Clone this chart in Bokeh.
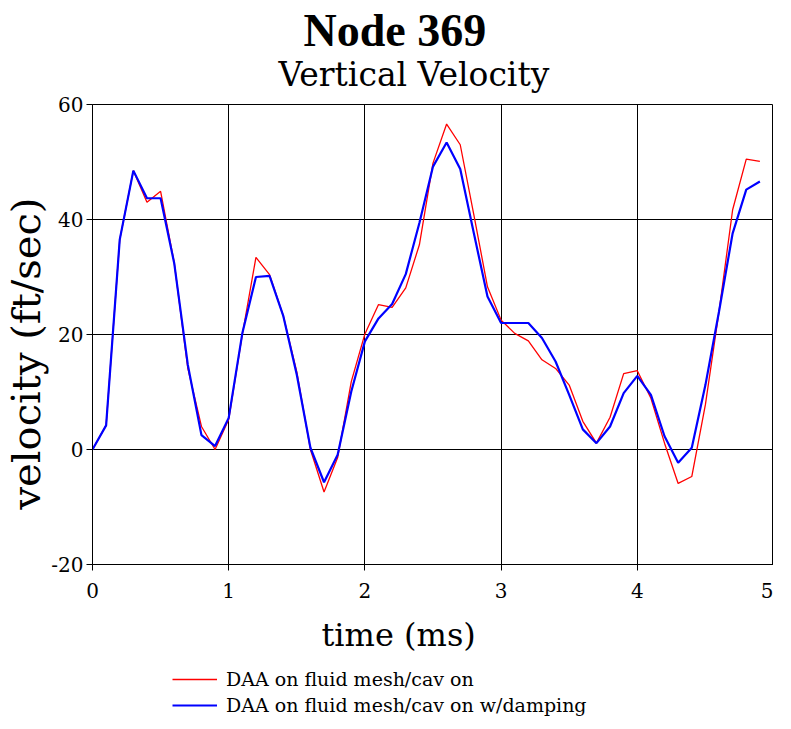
from bokeh.plotting import figure
from bokeh.models import Title, Legend, LegendItem, FixedTicker, Range1d
from bokeh.layouts import column
from bokeh.embed import file_html
from bokeh.resources import INLINE

time_ms = [round(i * 0.1, 1) for i in range(50)]
vel_cav = [0, 4.2, 36.5, 48.5, 43.0, 44.9, 32.5, 14.1, 4.0, 0.0,
           5.2, 20.0, 33.4, 30.4, 23.3, 13.5, 0.0, -7.4, -1.4, 11.8,
           20.1, 25.2, 24.7, 28.1, 35.6, 49.8, 56.6, 53.0, 40.8, 28.3,
           22.5, 20.2, 18.9, 15.6, 14.1, 11.2, 4.9, 1.1, 5.6, 13.2,
           13.7, 8.9, 1.1, -5.9, -4.7, 7.8, 24.0, 41.7, 50.5, 50.1]
vel_damp = [0, 4.2, 36.5, 48.5, 43.7, 43.7, 32.4, 14.7, 2.5, 0.6,
            5.5, 20.2, 30.0, 30.2, 23.3, 13.0, 0.3, -5.7, -0.9, 10.1,
            18.8, 22.8, 25.3, 30.5, 39.4, 49.2, 53.4, 48.8, 37.6, 26.6,
            22.0, 22.0, 22.0, 19.4, 15.3, 9.5, 3.5, 1.1, 4.0, 9.8,
            12.8, 9.5, 2.3, -2.3, 0.3, 11.2, 24.0, 37.6, 45.2, 46.6]
x_ticks = [0, 1, 2, 3, 4, 5]
y_ticks = [-20, 0, 20, 40, 60]
y_tick_labels = {-20: "-20", 0: "0", 20: "20", 40: "40", 60: "60"}
series_labels = ["DAA on fluid mesh/cav on", "DAA on fluid mesh/cav on w/damping"]
series_colors = ["#ff0000", "#0000ff"]
series_widths = [1.3, 2.2]

SERIF = "DejaVu Serif"
TIMES = "Liberation Serif"

p = figure(frame_width=681, frame_height=460, min_border=0,
           x_range=Range1d(0, 5), y_range=Range1d(-20, 60),
           output_backend="svg", toolbar_location=None,
           background_fill_color="white", border_fill_color="white")
p.outline_line_color = "black"
p.outline_line_width = 1

p.title = None
sub = Title(text="Vertical Velocity", align="left", offset=186, text_font=SERIF,
            text_font_size="33px", text_font_style="normal", text_color="black",
            standoff=21)
main = Title(text="Node 369", align="left", offset=211, text_font=TIMES,
             text_font_size="46px", text_font_style="bold", text_color="black",
             standoff=-26)
top_pad = Title(text="\u00a0", align="left", text_font=SERIF,
                text_font_size="11px", text_font_style="normal", standoff=0)
p.add_layout(sub, "above")
p.add_layout(main, "above")
p.add_layout(top_pad, "above")

ylab = Title(text="velocity (ft/sec)", align="left", offset=55, text_font=SERIF,
             text_font_size="40px", text_font_style="normal", text_color="black",
             standoff=0)
p.add_layout(ylab, "left")

r1 = p.line(time_ms, vel_cav, line_color=series_colors[0], line_width=series_widths[0])
r2 = p.line(time_ms, vel_damp, line_color=series_colors[1], line_width=series_widths[1])

for ax in (p.xaxis[0], p.yaxis[0]):
    ax.axis_line_color = "black"
    ax.major_tick_line_color = "black"
    ax.minor_tick_line_color = None
    ax.major_tick_out = 6
    ax.major_tick_in = 0
    ax.major_label_text_font = SERIF
    ax.major_label_text_font_size = "20px"
    ax.major_label_text_color = "black"

p.xaxis.ticker = FixedTicker(ticks=x_ticks)
p.yaxis.ticker = FixedTicker(ticks=y_ticks)
p.yaxis.major_label_overrides = y_tick_labels
p.xaxis.major_label_standoff = 12
p.yaxis.major_label_standoff = 3

xlab = Title(text="time (ms)", align="left", offset=229, text_font=SERIF,
             text_font_size="32px", text_font_style="normal", text_color="black",
             standoff=27)
p.add_layout(xlab, "below")

p.xgrid.ticker = FixedTicker(ticks=x_ticks)
p.ygrid.ticker = FixedTicker(ticks=y_ticks)
for g in (p.xgrid[0], p.ygrid[0]):
    g.grid_line_color = "black"
    g.grid_line_width = 1
    g.grid_line_alpha = 1

# legend strip below the chart (legend proxies reuse the same series, hidden)
p2 = figure(width=775, height=56, min_border=0,
            x_range=Range1d(0, 5), y_range=Range1d(-20, 60),
            x_axis_location=None, y_axis_location=None,
            output_backend="svg", toolbar_location=None,
            background_fill_color="white", border_fill_color="white")
p2.outline_line_color = None
p2.xgrid.visible = False
p2.ygrid.visible = False
k1 = p2.line(time_ms, vel_cav, line_color=series_colors[0],
             line_width=series_widths[0], visible=False)
k2 = p2.line(time_ms, vel_damp, line_color=series_colors[1],
             line_width=series_widths[1], visible=False)
legend = Legend(items=[LegendItem(label=series_labels[0], renderers=[k1]),
                       LegendItem(label=series_labels[1], renderers=[k2])],
                location=(80, 7), orientation="vertical",
                label_text_font=SERIF, label_text_font_size="19px",
                label_text_color="black", glyph_width=45, glyph_height=20,
                label_height=20, spacing=4, padding=0, margin=0,
                border_line_color=None, background_fill_alpha=0,
                label_standoff=9)
p2.add_layout(legend, "center")

layout = column(p, p2, spacing=0)
open("out.html", "w").write(file_html(layout, INLINE))
